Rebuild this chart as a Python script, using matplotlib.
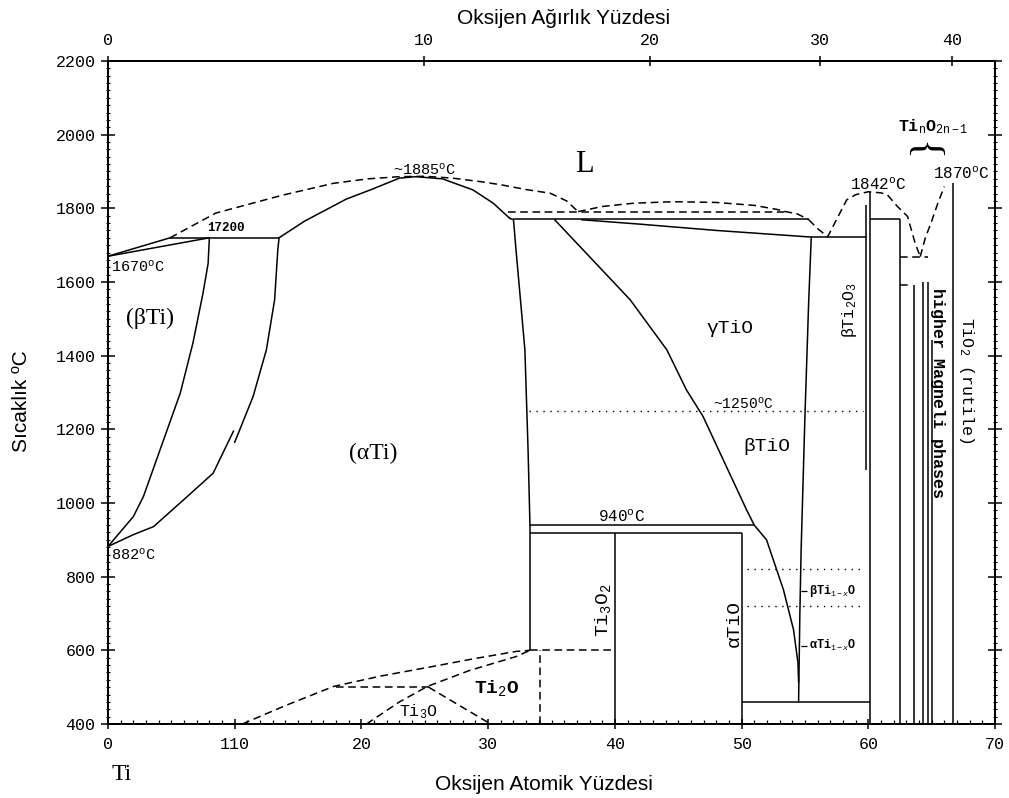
import numpy as np
import matplotlib.pyplot as plt
from matplotlib.ticker import MultipleLocator

plt.rcParams['mathtext.fontset'] = 'custom'
plt.rcParams['mathtext.rm'] = 'Liberation Mono'
plt.rcParams['mathtext.it'] = 'Liberation Mono:italic'
plt.rcParams['mathtext.bf'] = 'Liberation Mono:bold'

MONO = 'Liberation Mono'
SERIF = 'Liberation Serif'
SANS = 'Liberation Sans'

# --- phase boundaries (x = at.% O, T = degC) ---
# beta-Ti liquidus / solidus near pure Ti
liq_b_x = [0.0, 4.9]
liq_b_T = [1670, 1720]
sol_b_x = [0.0, 8.0]
sol_b_T = [1670, 1720]

# (beta Ti) / (beta+alpha) transus
beta_x = [0.0, 2.0, 2.8, 4.3, 5.7, 6.7, 7.5, 7.9, 8.0]
beta_T = [882, 963, 1018, 1163, 1298, 1434, 1570, 1650, 1720]

# (alpha Ti) lower boundary, two pieces with a small break
alpha_lo_x = [0.0, 2.0, 3.6, 6.4, 8.3, 9.9]
alpha_lo_T = [882, 914, 936, 1022, 1081, 1195]
alpha_up_x = [10.0, 11.45, 12.5, 13.15, 13.4, 13.5]
alpha_up_T = [1165, 1289, 1416, 1552, 1687, 1720]

# (alpha Ti) liquidus (solid) and right boundary
aliq_x = [13.5, 15.5, 18.8, 20.7, 23.0, 24.3, 26.4, 28.8, 30.4, 31.7]
aliq_T = [1720, 1765, 1825, 1850, 1882, 1886, 1880, 1850, 1814, 1773]
aright_x = [31.7, 32.0, 32.2, 32.9, 33.15, 33.3]
aright_T = [1773, 1769, 1687, 1416, 1145, 940]

# dashed liquidus over (alpha Ti)
dliq_x = [4.9, 8.5, 9.9, 13.8, 17.8, 20.5, 23.0, 25.0, 27.2, 29.5, 31.0, 33.0, 34.9, 36.2, 37.1]
dliq_T = [1720, 1787, 1800, 1836, 1868, 1880, 1886, 1887, 1882, 1872, 1864, 1851, 1841, 1820, 1791]

# dashed arc over gamma TiO
darc_x = [37.1, 39.0, 41.5, 44.6, 48.0, 51.0, 52.8, 53.5, 54.4, 55.3]
darc_T = [1791, 1805, 1814, 1818, 1816, 1808, 1797, 1791, 1785, 1769]

# sloping solid line under the 1770 isotherm
slope_x = [37.4, 42.0, 48.0, 55.5]
slope_T = [1769, 1757, 1740, 1722]

# TiO left boundary
tio_l_x = [35.25, 37.5, 41.2, 44.1, 45.65, 46.96, 48.8, 50.4, 51.0, 51.97, 53.3, 54.1, 54.45, 54.5]
tio_l_T = [1769, 1687, 1552, 1416, 1307, 1235, 1099, 981, 940, 900, 765, 656, 566, 515]
# TiO right boundary
tio_r_x = [55.5, 55.3, 55.0, 54.7, 54.6, 54.5]
tio_r_T = [1722, 1550, 1235, 873, 700, 460]

# dashed liquidus between TiO, Ti2O3, Magneli phases and TiO2
dv_x = [55.3, 56.0, 56.8, 57.5, 58.3, 59.0, 60.0, 61.0, 61.5, 62.3, 63.1, 63.7, 64.1]
dv_T = [1769, 1745, 1723, 1770, 1823, 1837, 1845, 1842, 1837, 1805, 1778, 1705, 1669]
dr_x = [64.1, 64.5, 64.95, 65.5, 66.0]
dr_T = [1669, 1720, 1760, 1815, 1859]

# low temperature ordering (dashed)
ord1_x = [10.6, 14.0, 17.8, 21.5, 25.6, 29.0, 32.2, 33.3]
ord1_T = [400, 450, 502, 530, 556, 578, 597, 600]
ord2_x = [20.4, 23.0, 25.2, 28.5, 32.2, 33.3]
ord2_T = [400, 460, 502, 545, 583, 600]
ord3_x = [25.3, 27.5, 30.2]
ord3_T = [500, 455, 400]

# solid isotherms: T, x start, x end
iso_T = [1720, 1770, 1722, 940, 918, 460, 1770]
iso_x0 = [4.9, 32.0, 55.5, 33.3, 33.3, 50.0, 60.1]
iso_x1 = [13.5, 55.3, 59.9, 51.0, 50.0, 60.1, 62.5]

# solid verticals: x, T bottom, T top
vert_x = [33.3, 40.0, 50.0, 60.1, 59.8, 62.5, 63.64, 64.29, 64.71, 65.0, 66.67]
vert_T0 = [600, 400, 400, 400, 1090, 400, 400, 400, 400, 400, 400]
vert_T1 = [940, 918, 918, 1845, 1810, 1770, 1592, 1600, 1600, 1443, 1870]

# dashed isotherms
diso_T = [1791, 1669, 1592, 500, 600]
diso_x0 = [31.6, 62.5, 62.5, 18.0, 33.3]
diso_x1 = [53.5, 64.7, 63.1, 25.3, 40.0]

# dotted isotherms
dot_T = [1250, 820, 720]
dot_x0 = [33.2, 50.4, 50.4]
dot_x1 = [59.6, 59.7, 59.7]

# axes ticks
at_ticks = [0, 10, 20, 30, 40, 50, 60, 70]
at_labels = ['0', '110', '20', '30', '40', '50', '60', '70']
wt_ticks = [0, 10, 20, 30, 40]
T_ticks = list(range(400, 2201, 200))


def wt_to_at(w):
    w = np.asarray(w, dtype=float)
    o = w / 16.00
    ti = (100.0 - w) / 47.87
    return 100.0 * o / (o + ti)


fig = plt.figure(figsize=(10.09, 7.98), dpi=100)
ax = fig.add_axes([108 / 1009, 1 - 724 / 798, (995 - 108) / 1009, (724 - 61) / 798])
ax.set_xlim(0, 70)
ax.set_ylim(400, 2200)

LW = 1.1
DASH = (0, (5, 3))
kw = dict(color='black', lw=LW)

for xs, ts in [(liq_b_x, liq_b_T), (sol_b_x, sol_b_T), (beta_x, beta_T),
               (alpha_lo_x, alpha_lo_T), (alpha_up_x, alpha_up_T),
               (aliq_x, aliq_T), (aright_x, aright_T), (slope_x, slope_T),
               (tio_l_x, tio_l_T), (tio_r_x, tio_r_T)]:
    ax.plot(xs, ts, **kw)

for xs, ts in [(dliq_x, dliq_T), (darc_x, darc_T), (dv_x, dv_T), (dr_x, dr_T),
               (ord1_x, ord1_T), (ord2_x, ord2_T), (ord3_x, ord3_T)]:
    ax.plot(xs, ts, ls=DASH, **kw)

ax.hlines(iso_T, iso_x0, iso_x1, colors='black', lw=LW)
ax.vlines(vert_x, vert_T0, vert_T1, colors='black', lw=LW)
ax.hlines(diso_T, diso_x0, diso_x1, colors='black', lw=LW, linestyles=[DASH])
ax.vlines([34.1], [400], [600], colors='black', lw=LW, linestyles=[DASH])
ax.hlines(dot_T, dot_x0, dot_x1, colors='black', lw=1.0, linestyles=[(0, (1, 4))])
ax.hlines([762, 612], [54.7, 54.7], [55.2, 55.2], colors='black', lw=0.9)

# --- labels inside the diagram ---
deg = r'$^{\rm o}$C'
ax.text(37.6, 1918, 'L', family=SERIF, fontsize=22, ha='center', va='center')
ax.text(25.0, 1905, '~1885' + deg, family=MONO, fontsize=11, ha='center', va='center')
ax.text(9.3, 1747, '17200', family=MONO, fontsize=9, weight='bold', ha='center', va='center')
ax.text(0.2, 1642, '1670' + deg, family=MONO, fontsize=11, ha='left', va='center')
ax.text(3.3, 1502, '(βTi)', family=SERIF, fontsize=17, ha='center', va='center')
ax.text(20.9, 1135, '(αTi)', family=SERIF, fontsize=17, ha='center', va='center')
ax.text(0.2, 859, '882' + deg, family=MONO, fontsize=11, ha='left', va='center')
ax.text(49.06, 1475, 'γTiO', family=MONO, fontsize=14, ha='center', va='center')
ax.text(51.97, 1153, 'βTiO', family=MONO, fontsize=14, ha='center', va='center')
ax.text(50.1, 1271, '~1250' + deg, family=MONO, fontsize=10.5, ha='center', va='center')
ax.text(40.5, 963, '940' + deg, family=MONO, fontsize=11.5, ha='center', va='center')
ax.text(39.07, 710, r'Ti$_3$O$_2$', family=MONO, fontsize=14, rotation=90, ha='center', va='center')
ax.text(49.46, 674, 'αTiO', family=MONO, fontsize=14, rotation=90, ha='center', va='center')
ax.text(58.5, 1524, r'βTi$_2$O$_3$', family=MONO, fontsize=12, rotation=90, ha='center', va='center')
ax.text(65.5, 1298, 'higher Magneli phases', family=MONO, fontsize=12, weight='bold',
        rotation=-90, ha='center', va='center')
ax.text(67.75, 1334, r'TiO$_2$ (rutile)', family=MONO, fontsize=12, rotation=-90,
        ha='center', va='center')
ax.text(65.1, 2022, r'Ti$_{\rm n}$O$_{\rm 2n-1}$', family=MONO, fontsize=12, weight='bold',
        ha='center', va='center')
ax.text(64.2, 1955, '{', family=SERIF, fontsize=30, rotation=-90, ha='center', va='center')
ax.text(60.77, 1864, '1842' + deg, family=MONO, fontsize=11.5, ha='center', va='center')
ax.text(67.35, 1895, '1870' + deg, family=MONO, fontsize=11.5, ha='center', va='center')
ax.text(55.3, 762, r'βTi$_{1-x}$O', family=MONO, fontsize=8.5, weight='bold', ha='left', va='center')
ax.text(55.3, 612, r'αTi$_{1-x}$O', family=MONO, fontsize=8.5, weight='bold', ha='left', va='center')
ax.text(24.5, 434, r'Ti$_3$O', family=MONO, fontsize=12, ha='center', va='center')
ax.text(30.66, 498, r'Ti$_2$O', family=MONO, fontsize=14, weight='bold', ha='center', va='center')
ax.text(1.05, 262, 'Ti', family=SERIF, fontsize=17, ha='center', va='center', clip_on=False)

# --- axes styling ---
for sp in ax.spines.values():
    sp.set_linewidth(1.4)

ax.set_xticks(at_ticks)
ax.set_xticklabels(at_labels, family=MONO, fontsize=12)
ax.xaxis.set_minor_locator(MultipleLocator(1))
ax.set_yticks(T_ticks)
ax.set_yticklabels([str(t) for t in T_ticks], family=MONO, fontsize=12)
ax.yaxis.set_minor_locator(MultipleLocator(20))
ax.tick_params(axis='x', which='major', direction='inout', length=7, width=1.1,
               top=True, bottom=True, pad=6)
ax.tick_params(axis='x', which='minor', direction='in', length=3, width=0.9, top=True)
ax.tick_params(axis='y', which='major', direction='inout', length=10, width=1.1,
               left=True, right=True, pad=4)
ax.tick_params(axis='y', which='minor', direction='inout', length=3, width=0.8,
               left=True, right=True)

ax2 = ax.twiny()
ax2.set_xlim(0, 70)
ax2.set_xticks(wt_to_at(wt_ticks))
ax2.set_xticklabels([str(w) for w in wt_ticks], family=MONO, fontsize=12)
ax2.tick_params(axis='x', direction='inout', length=7, width=1.1, pad=6)
for sp in ax2.spines.values():
    sp.set_linewidth(1.4)

fig.text(0.5585, 0.9774, 'Oksijen Ağırlık Yüzdesi', family=SANS, fontsize=15,
         ha='center', va='center')
fig.text(0.5387, 0.0175, 'Oksijen Atomik Yüzdesi', family=SANS, fontsize=15,
         ha='center', va='center')
fig.text(0.0215, 0.4977, 'Sıcaklık ºC', family=SANS, fontsize=15, rotation=90,
         ha='center', va='center')

fig.savefig('out.png', dpi=100)
